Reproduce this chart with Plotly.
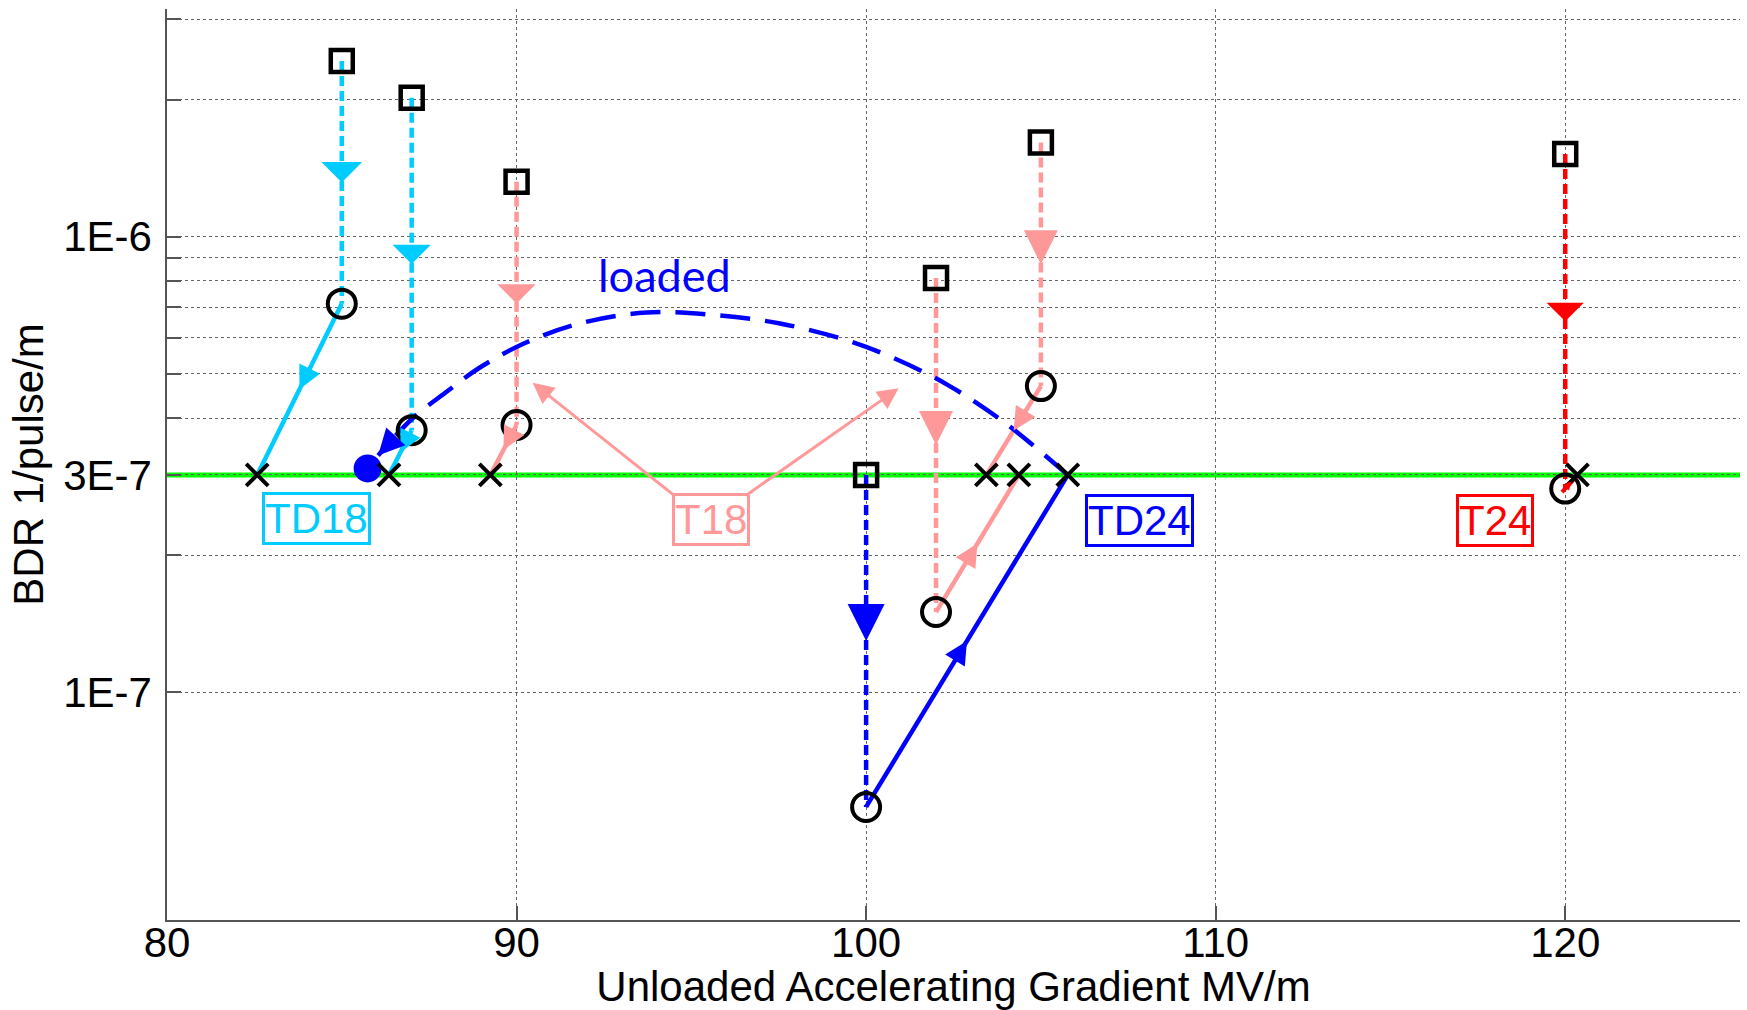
import numpy as np
import plotly.graph_objects as go

# Breakdown-rate scaling of CLIC test structures.
# Square: measured BDR at the tested gradient.
# Circle: BDR rescaled to the nominal pulse length (same gradient).
# Cross: gradient at which the rescaled BDR reaches the 3E-7 target.
BDR_TARGET = 3e-7

TD18_GRADIENT = [85.0, 87.0]
TD18_BDR_MEASURED = [2.43e-6, 2.02e-6]
TD18_BDR_SCALED = [7.13e-7, 3.76e-7]
TD18_GRADIENT_TARGET = [82.58, 86.35]

T18_GRADIENT = [90.0, 102.0, 105.0]
T18_BDR_MEASURED = [1.32e-6, 8.12e-7, 1.61e-6]
T18_BDR_SCALED = [3.86e-7, 1.50e-7, 4.70e-7]
T18_GRADIENT_TARGET = [89.25, 104.37, 103.44]

TD24_GRADIENT = [100.0]
TD24_BDR_MEASURED = [3.0e-7]
TD24_BDR_SCALED = [5.6e-8]
TD24_GRADIENT_TARGET = [105.77]

T24_GRADIENT = [120.0]
T24_BDR_MEASURED = [1.52e-6]
T24_BDR_SCALED = [2.80e-7]
T24_GRADIENT_TARGET = [120.35]

# Beam-loaded path of TD24 back to the loaded operating point
LOADED_GRADIENT = [105.77, 103.92, 102.33, 100.73, 99.46, 97.54, 95.63,
                   93.72, 91.80, 90.21, 88.93, 87.97, 87.02, 86.04]
LOADED_BDR = [3.0e-7, 3.93e-7, 4.73e-7, 5.44e-7, 5.92e-7, 6.45e-7, 6.74e-7,
              6.82e-7, 6.45e-7, 5.83e-7, 5.15e-7, 4.55e-7, 3.99e-7, 3.31e-7]
LOADED_POINT_GRADIENT = [85.74]
LOADED_POINT_BDR = [3.1e-7]

X_TICKS = [80, 90, 100, 110, 120]
Y_TICKS = [1e-7, 2e-7, 3e-7, 4e-7, 5e-7, 6e-7, 7e-7, 8e-7, 9e-7,
           1e-6, 2e-6, 3e-6]
Y_TICK_TEXT = ["1E-7", "", "3E-7", "", "", "", "", "", "", "1E-6", "", ""]

COLORS = {
    "TD18": "#00CCFF",
    "T18": "#FF9999",
    "TD24": "#0000FF",
    "T24": "#FF0000",
}

STRUCTURES = [
    ("TD18", TD18_GRADIENT, TD18_BDR_MEASURED, TD18_BDR_SCALED, TD18_GRADIENT_TARGET),
    ("T18", T18_GRADIENT, T18_BDR_MEASURED, T18_BDR_SCALED, T18_GRADIENT_TARGET),
    ("TD24", TD24_GRADIENT, TD24_BDR_MEASURED, TD24_BDR_SCALED, TD24_GRADIENT_TARGET),
    ("T24", T24_GRADIENT, T24_BDR_MEASURED, T24_BDR_SCALED, T24_GRADIENT_TARGET),
]

# arrowhead style for the pulse-length scaling step: (plotly arrowhead, size)
SCALING_HEADS = {
    "TD18": [(1, 1.7), (1, 1.6)],
    "T18": [(1, 1.6), (2, 1.7), (2, 1.7)],
    "TD24": [(2, 1.85)],
    "T24": [(1, 1.55)],
}

# figure geometry
FIG_W, FIG_H = 1747, 1010
M_L, M_R, M_T, M_B = 167, 7, 9, 90
X_RANGE = [80, 125]
Y_RANGE_LOG = [-7.5, -5.5]
PX_PER_X = (FIG_W - M_L - M_R) / (X_RANGE[1] - X_RANGE[0])
PX_PER_DECADE = (FIG_H - M_T - M_B) / (Y_RANGE_LOG[1] - Y_RANGE_LOG[0])

LINE_W = 4.5
DASH = "10px,5px"
FONT = "Liberation Sans, Arial, sans-serif"

fig = go.Figure()


def segment(x0, y0, x1, y1, color, dash):
    fig.add_trace(go.Scatter(
        x=[x0, x1], y=[y0, y1], mode="lines",
        line=dict(color=color, width=LINE_W, dash=dash),
        hoverinfo="skip", showlegend=False))


def arrow_head(x0, y0, x1, y1, color, head, size, frac=0.5, width=4):
    """Arrowhead whose tip sits at `frac` along the segment (x0,y0)->(x1,y1)."""
    ly0, ly1 = np.log10(y0), np.log10(y1)
    xm = x0 + frac * (x1 - x0)
    lym = ly0 + frac * (ly1 - ly0)
    dx = (x1 - x0) * PX_PER_X
    dy = -(ly1 - ly0) * PX_PER_DECADE
    n = np.hypot(dx, dy)
    tail = 16
    fig.add_annotation(
        x=xm, y=lym, xref="x", yref="y",
        ax=-dx / n * tail, ay=-dy / n * tail, axref="pixel", ayref="pixel",
        text="", showarrow=True, arrowhead=head, arrowsize=size,
        arrowwidth=width, arrowcolor=color, standoff=0)


# target BDR line
fig.add_shape(type="line", xref="paper", x0=0, x1=1, yref="y",
              y0=BDR_TARGET, y1=BDR_TARGET,
              line=dict(color="#00FF00", width=5), layer="below")

for name, grad, bdr_meas, bdr_scaled, grad_target in STRUCTURES:
    c = COLORS[name]
    for g, bm, bs, gt in zip(grad, bdr_meas, bdr_scaled, grad_target):
        segment(g, bm, g, bs, c, DASH)
        segment(g, bs, gt, BDR_TARGET, c, "solid")

# loaded path
fig.add_trace(go.Scatter(
    x=LOADED_GRADIENT, y=LOADED_BDR, mode="lines",
    line=dict(color="#0000FF", width=LINE_W, dash="30px,15px", shape="spline"),
    hoverinfo="skip", showlegend=False))
fig.add_trace(go.Scatter(
    x=LOADED_POINT_GRADIENT, y=LOADED_POINT_BDR, mode="markers",
    marker=dict(symbol="circle", size=28, color="#0000FF"),
    hoverinfo="skip", showlegend=False))

# black markers
all_grad = sum([s[1] for s in STRUCTURES], [])
all_meas = sum([s[2] for s in STRUCTURES], [])
all_scaled = sum([s[3] for s in STRUCTURES], [])
all_target = sum([s[4] for s in STRUCTURES], [])

fig.add_trace(go.Scatter(
    x=all_grad, y=all_meas, mode="markers",
    marker=dict(symbol="square-open", size=22, color="black",
                line=dict(width=4.5, color="black")),
    hoverinfo="skip", showlegend=False))
fig.add_trace(go.Scatter(
    x=all_grad, y=all_scaled, mode="markers",
    marker=dict(symbol="circle-open", size=28, color="black",
                line=dict(width=4, color="black")),
    hoverinfo="skip", showlegend=False))
fig.add_trace(go.Scatter(
    x=all_target, y=[BDR_TARGET] * len(all_target), mode="markers",
    marker=dict(symbol="x-thin", size=22, color="black",
                line=dict(width=4, color="black")),
    hoverinfo="skip", showlegend=False))

# arrowheads along each step
for name, grad, bdr_meas, bdr_scaled, grad_target in STRUCTURES:
    c = COLORS[name]
    for i, (g, bm, bs, gt) in enumerate(zip(grad, bdr_meas, bdr_scaled, grad_target)):
        head, size = SCALING_HEADS[name][i]
        arrow_head(g, bm, g, bs, c, head, size)
        seg_px = np.hypot((gt - g) * PX_PER_X,
                          np.log10(BDR_TARGET / bs) * PX_PER_DECADE)
        arrow_head(g, bs, gt, BDR_TARGET, c, 2, min(1.15, seg_px / 45))

arrow_head(LOADED_GRADIENT[-2], LOADED_BDR[-2], LOADED_GRADIENT[-1], LOADED_BDR[-1],
           "#0000FF", 2, 1.3, frac=1.0)

# structure labels
LABEL_POS = {"TD18": (84.27, 2.41e-7), "T18": (95.57, 2.40e-7),
             "TD24": (107.81, 2.38e-7), "T24": (117.99, 2.38e-7)}
for name, (lx, ly) in LABEL_POS.items():
    fig.add_annotation(
        x=lx, y=np.log10(ly), xref="x", yref="y", text=name, showarrow=False,
        font=dict(family=FONT, size=42, color=COLORS[name]),
        bordercolor=COLORS[name], borderwidth=3, borderpad=0, bgcolor="white")

# T18 pointers
for (tx, ty), (sx, sy) in [((90.46, 4.78e-7), (94.55, 2.69e-7)),
                           ((100.93, 4.65e-7), (96.52, 2.69e-7))]:
    fig.add_annotation(
        x=tx, y=np.log10(ty), ax=sx, ay=np.log10(sy), xref="x", yref="y",
        axref="x", ayref="y", text="", showarrow=True, arrowhead=2,
        arrowsize=1.4, arrowwidth=3, arrowcolor=COLORS["T18"], standoff=0)

fig.add_annotation(
    x=94.23, y=np.log10(8.26e-7), xref="x", yref="y", text="loaded",
    showarrow=False, font=dict(family="Lato, Open Sans", size=45, color="#0000FF"))

axis_common = dict(
    showline=True, linecolor="#555555", linewidth=1.5,
    ticks="inside", ticklen=14, tickcolor="#555555", tickwidth=1.5,
    showgrid=True, gridcolor="#666666", gridwidth=1, griddash="dot",
    zeroline=False, mirror=False, automargin=False,
    tickfont=dict(family=FONT, size=42, color="black"),
)

fig.update_xaxes(
    range=X_RANGE, tickvals=X_TICKS, ticklabelstandoff=-15,
    title=dict(text="Unloaded Accelerating Gradient MV/m", standoff=15,
               font=dict(family=FONT, size=42, color="black")),
    **axis_common)
fig.update_yaxes(
    type="log", range=Y_RANGE_LOG, tickvals=Y_TICKS, ticktext=Y_TICK_TEXT,
    ticklabelstandoff=5,
    title=dict(text="BDR 1/pulse/m", standoff=6,
               font=dict(family=FONT, size=42, color="black")),
    **axis_common)

fig.update_layout(
    width=FIG_W, height=FIG_H,
    margin=dict(l=M_L, r=M_R, t=M_T, b=M_B),
    plot_bgcolor="white", paper_bgcolor="white",
    showlegend=False,
)

fig.write_html("out.html")
